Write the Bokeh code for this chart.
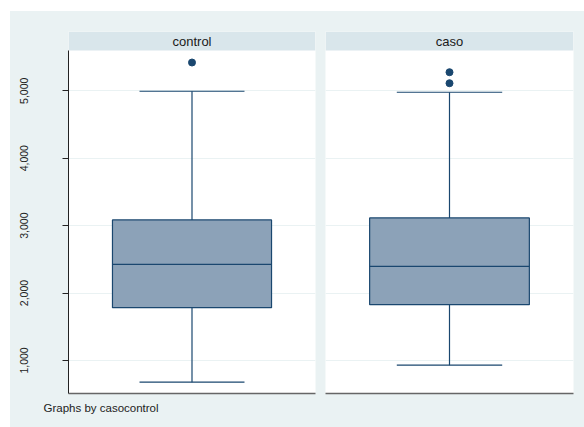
from bokeh.plotting import figure
from bokeh.layouts import row
from bokeh.models import Title, NumeralTickFormatter, FixedTicker, Range1d, ColumnDataSource
from bokeh.core.properties import value
from bokeh.embed import file_html
from bokeh.resources import INLINE

groups = ["control", "caso"]
q1 = [1783, 1828]
median = [2426, 2396]
q3 = [3085, 3114]
lower_whisker = [678, 930]
upper_whisker = [4994, 4979]
outliers = [[5420], [5276, 5113]]
y_ticks = [1000, 2000, 3000, 4000, 5000]

BG = "#EAF2F3"
STRIP = "#D9E6EB"
NAVY = "#1A476F"
BOXFILL = "#8CA2B8"
FONT = "Liberation Sans"

Y0, Y1 = 510, 5598      # plot region (value axis)
STRIP_TOP = 5880        # frame extends up to include the header strip
yr = Range1d(Y0, STRIP_TOP)


def make_panel(i, first):
    width = 310 if first else 264
    p = figure(width=width, height=416, y_range=yr, x_range=Range1d(0, 1),
               output_backend="svg", toolbar_location=None,
               min_border_left=58 if first else 5,
               min_border_right=5 if first else 11,
               min_border_top=20, min_border_bottom=34,
               border_fill_color=BG, background_fill_color="white",
               outline_line_color=None, x_axis_location="below",
               y_axis_location="left" if first else None)
    # header strip
    p.quad(left=[0], right=[1], bottom=[Y1], top=[STRIP_TOP],
           fill_color=STRIP, line_color=None)
    p.text(x=[0.5], y=[(Y1 + STRIP_TOP) / 2], text=[groups[i]],
           text_align="center", text_baseline="middle",
           text_font=value(FONT), text_font_size="13px", text_color="#1a1a1a")
    # x axis: line only
    p.xaxis.major_tick_line_color = None
    p.xaxis.minor_tick_line_color = None
    p.xaxis.major_tick_out = 0
    p.xaxis.major_label_text_font_size = "0px"
    p.xaxis.major_label_standoff = 0
    p.xaxis.axis_line_color = "#666666"
    p.xaxis.axis_line_width = 1.5
    p.xaxis.ticker = FixedTicker(ticks=[])
    p.xgrid.visible = False
    p.ygrid.ticker = FixedTicker(ticks=y_ticks)
    p.ygrid.grid_line_color = BG
    p.ygrid.grid_line_width = 1
    if first:
        ax = p.yaxis[0]
        ax.bounds = (Y0, Y1)
        ax.ticker = FixedTicker(ticks=y_ticks)
        ax.formatter = NumeralTickFormatter(format="0,0")
        ax.major_label_orientation = "vertical"
        ax.major_label_text_font = FONT
        ax.major_label_text_font_size = "10.5px"
        ax.major_label_text_color = "#222222"
        ax.major_tick_out = 6
        ax.major_tick_in = 0
        ax.minor_tick_line_color = None
        ax.major_label_standoff = 34
        ax.axis_line_color = "#222222"
        ax.major_tick_line_color = "#222222"
        t = Title(text="Graphs by casocontrol", align="left", offset=-25,
                  text_font=FONT, text_font_size="11.5px", text_font_style="normal",
                  text_color="#222222", standoff=13)
        p.add_layout(t, "below")

    c = 0.5
    bw = 0.322
    cw = 0.2125
    p.line([c, c], [q3[i], upper_whisker[i]], line_color=NAVY, line_width=1.2)
    p.line([c, c], [q1[i], lower_whisker[i]], line_color=NAVY, line_width=1.2)
    p.line([c - cw, c + cw], [upper_whisker[i], upper_whisker[i]], line_color=NAVY, line_width=1.2)
    p.line([c - cw, c + cw], [lower_whisker[i], lower_whisker[i]], line_color=NAVY, line_width=1.2)
    p.quad(left=[c - bw], right=[c + bw], bottom=[q1[i]], top=[q3[i]],
           fill_color=BOXFILL, line_color=NAVY, line_width=1.2)
    p.line([c - bw, c + bw], [median[i], median[i]], line_color=NAVY, line_width=1.2)
    src = ColumnDataSource(dict(x=[c] * len(outliers[i]), y=outliers[i]))
    p.scatter("x", "y", source=src, size=7, fill_color=NAVY, line_color=NAVY)
    return p


p1 = make_panel(0, True)
p2 = make_panel(1, False)
layout = row(p1, p2, spacing=0, margin=(11, 0, 0, 10), styles={"background-color": BG})
open("out.html", "w").write(file_html(layout, INLINE))
